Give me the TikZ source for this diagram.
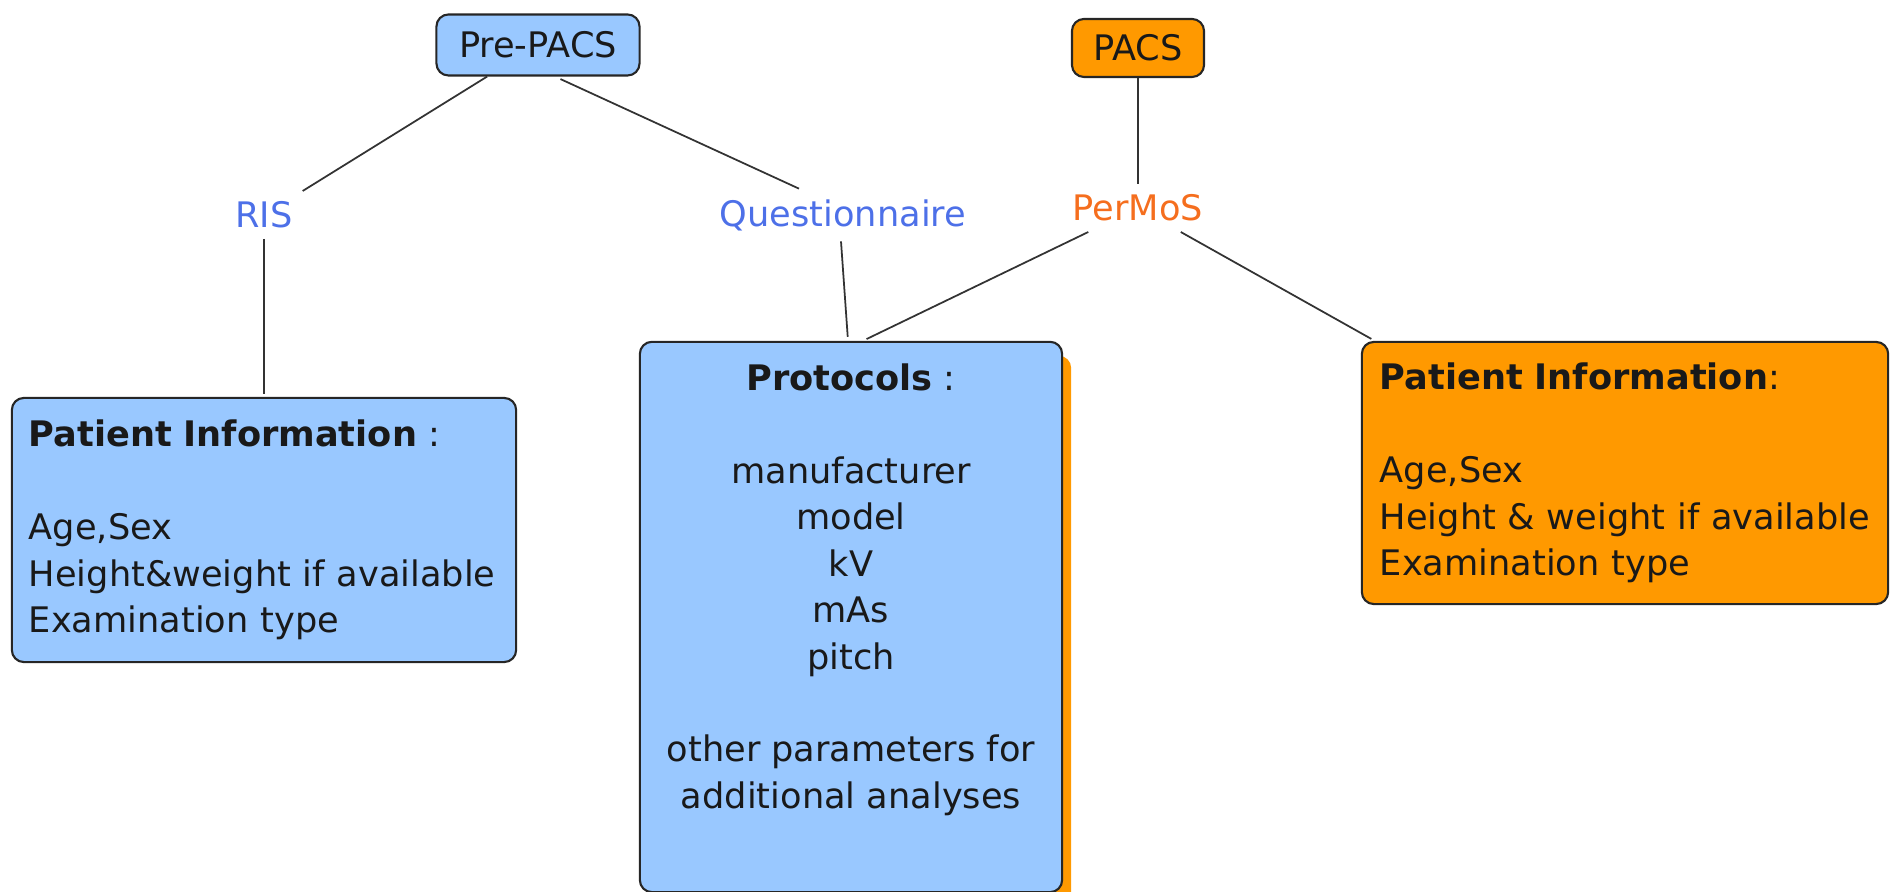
\documentclass[tikz,border=0pt]{standalone}
\usepackage{fontspec}
\setmainfont{DejaVu Sans}
\usetikzlibrary{shadows}
\definecolor{boxblue}{HTML}{99C8FF}
\definecolor{boxorange}{HTML}{FF9900}
\definecolor{labblue}{HTML}{4D70E8}
\definecolor{laborange}{HTML}{F56E1E}
\tikzset{
  box/.style={draw=black!85, line width=0.6pt, rounded corners=0.12cm, text=black!90, font=\fontsize{10}{13.2}\selectfont},
  lab/.style={inner sep=0.1cm, font=\fontsize{10}{13.2}\selectfont},
  link/.style={draw=black!80, line width=0.5pt}
}
\begin{document}
\begin{tikzpicture}[x=0.01cm, y=-0.01cm]
        \useasboundingbox (0,0) rectangle (1893,892);
        % top level sources
        \node[box, fill=boxblue, minimum width=2.03cm, minimum height=0.61cm] (prepacs) at (538,45) {Pre-PACS};
        \node[box, fill=boxorange, minimum width=1.32cm, minimum height=0.58cm] (pacs) at (1138,48) {PACS};
        \node[lab, text=labblue] (ris) at (264,215) {RIS};
        \node[lab, text=labblue] (quest) at (843,215) {Questionnaire};
        \node[lab, text=laborange] (permos) at (1138,208) {PerMoS};
        % collected data
        \node[box, fill=boxblue, minimum width=5.04cm, minimum height=2.64cm, inner xsep=0.17cm, text width=4.7cm, align=left] (patleft) at (264,530)
            {\textbf{Patient Information} :\\[13.2pt] Age,Sex\\ Height\&weight if available\\ Examination type};
        \node[box, fill=boxblue, inner sep=0pt, drop shadow={fill=boxorange, opacity=1, shadow xshift=0.09cm, shadow yshift=-0.14cm}] (proto) at (851,617)
            {\parbox[t][5.5cm][t]{4.22cm}{\centering\vspace*{0.22cm}\textbf{Protocols} :\\[13.2pt] manufacturer\\ model\\ kV\\ mAs\\ pitch\\[13.2pt] other parameters for\\ additional analyses}};
        \node[box, fill=boxorange, minimum width=5.26cm, minimum height=2.62cm, inner xsep=0.18cm, text width=4.9cm, align=left] (patright) at (1625,473)
            {\textbf{Patient Information}:\\[13.2pt] Age,Sex\\ Height \& weight if available\\ Examination type};
        % connections
        \draw[link] (prepacs) -- (ris);
        \draw[link, shorten <=0.06cm] ([xshift=0.17cm]prepacs.south) -- ([xshift=-0.44cm]quest.north);
        \draw[link, shorten >=0.03cm] (ris) -- (patleft);
        \draw[link, shorten >=0.04cm] ([xshift=-0.02cm]quest.south) -- ([xshift=-0.03cm]proto.north);
        \draw[link] (pacs) -- (permos);
        \draw[link, shorten >=0.04cm] (permos) -- ([xshift=0.12cm]proto.north);
        \draw[link, shorten >=0.04cm] (permos) -- ([xshift=0.14cm]patright.north west);
    \end{tikzpicture}
\end{document}
